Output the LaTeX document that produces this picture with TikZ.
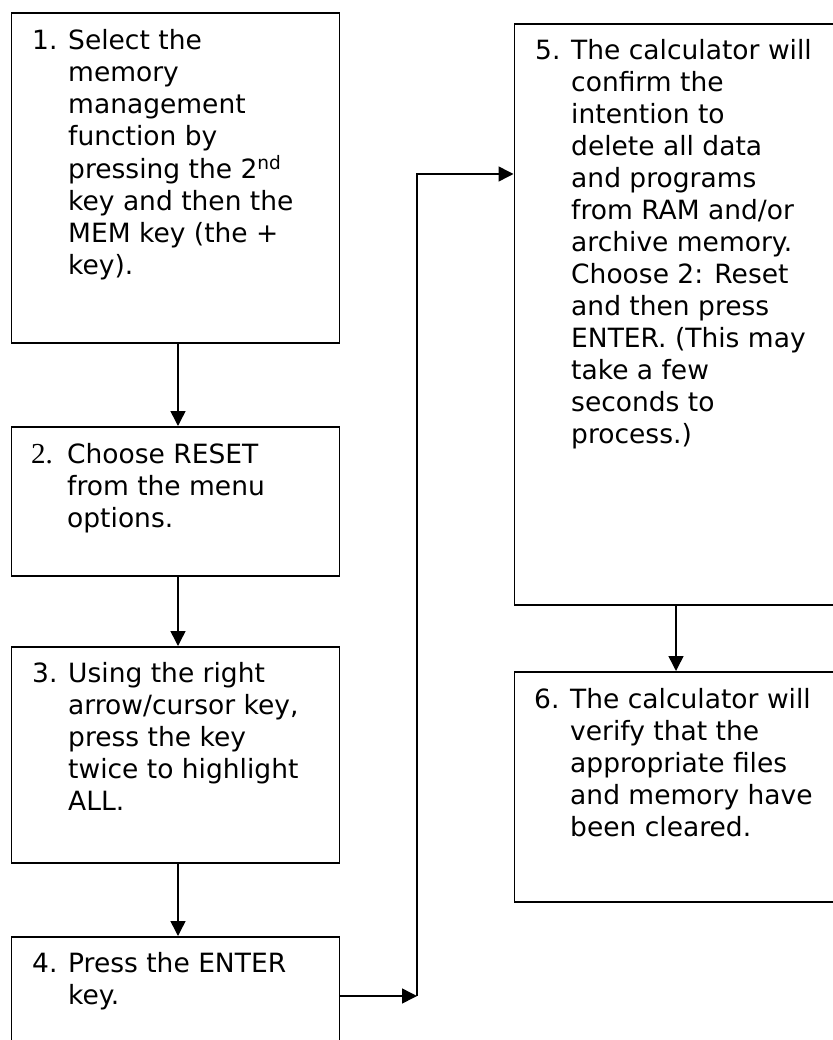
\documentclass[tikz,border=0pt]{standalone}
\usepackage{fontspec}
\setmainfont{DejaVu Sans}
\newfontfamily\numserif{Liberation Serif}
\usetikzlibrary{arrows.meta}
\tikzset{
  stepbox/.style={draw, line width=1.7pt, rectangle, inner sep=0pt, anchor=north west},
  steptext/.style={anchor=base west, inner sep=0pt, font=\fontsize{26.5}{32}\selectfont},
  conn/.style={line width=1.5pt},
  arr/.style={conn, -{Triangle[length=15pt,width=15pt]}}
}
\newcommand{\steplines}[2]{\begin{tabular}[t]{@{}p{36pt}@{}l@{}}#1 & #2\end{tabular}}
\begin{document}
\begin{tikzpicture}[x=1pt,y=-1pt]
\useasboundingbox (0,0) rectangle (832,1040);
% boxes
\node[stepbox, minimum width=328pt, minimum height=330pt] (b1) at (10.5,12) {};
\node[stepbox, minimum width=328pt, minimum height=149pt] (b2) at (10.5,426) {};
\node[stepbox, minimum width=328pt, minimum height=216pt] (b3) at (10.5,646) {};
\node[stepbox, minimum width=328pt, minimum height=112pt] (b4) at (10.5,936) {};
\node[stepbox, minimum width=325pt, minimum height=581pt] (b5) at (513.5,23) {};
\node[stepbox, minimum width=325pt, minimum height=230pt] (b6) at (513.5,671) {};
% texts
\node[steptext] (t1) at (32,50) {\steplines{1.}{Select the\\ & memory\\ & management\\ & function by\\ & pressing the 2\textsuperscript{nd}\\ & key and then the\\ & MEM key (the +\\ & key).}};
\node[steptext] (t2) at (31,463) {\steplines{{\numserif\fontsize{29}{32}\selectfont 2.}}{Choose RESET\\ & from the menu\\ & options.}};
\node[steptext] (t3) at (32,682) {\steplines{3.}{Using the right\\ & arrow/cursor key,\\ & press the key\\ & twice to highlight\\ & ALL.}};
\node[steptext] (t4) at (32,972) {\steplines{4.}{Press the ENTER\\ & key.}};
\node[steptext] (t5) at (535,60) {\steplines{5.}{The calculator will\\ & confirm the\\ & intention to\\ & delete all data\\ & and programs\\ & from RAM and/or\\ & archive memory.\\ & Choose 2: Reset\\ & and then press\\ & ENTER. (This may\\ & take a few\\ & seconds to\\ & process.)}};
\node[steptext] (t6) at (534,708) {\steplines{6.}{The calculator will\\ & verify that the\\ & appropriate files\\ & and memory have\\ & been cleared.}};
% connectors
\coordinate (xl) at (178,0);
\coordinate (xr) at (676,0);
\coordinate (j1) at (417,996);
\coordinate (j2) at (417,174);
\draw[arr] (b1.south -| xl) -- (b2.north -| xl);
\draw[arr] (b2.south -| xl) -- (b3.north -| xl);
\draw[arr] (b3.south -| xl) -- (b4.north -| xl);
\draw[arr] (b4.east |- j1) -- (j1);
\draw[arr] (j1) -- (j2) -- (b5.west |- j2);
\draw[arr] (b5.south -| xr) -- (b6.north -| xr);
\end{tikzpicture}
\end{document}
